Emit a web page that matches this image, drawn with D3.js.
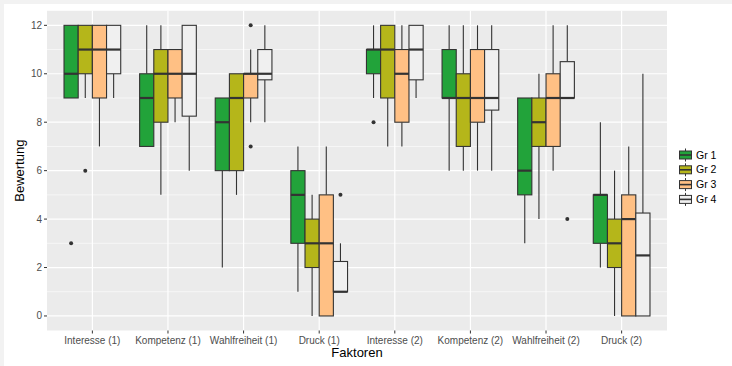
<!DOCTYPE html>
<meta charset="utf-8">
<html>
<head>
  <script src="https://d3js.org/d3.v7.min.js"></script>
  <style>
    body { margin: 0; background: #f2f2f2; }
    svg { display: block; font-family: "Liberation Sans", Arial, sans-serif; }
  </style>
</head>
<body>
  <svg></svg>
  <script type="text/javascript">
    // categories and groups
    var factors = ['Interesse (1)', 'Kompetenz (1)', 'Wahlfreiheit (1)', 'Druck (1)',
                   'Interesse (2)', 'Kompetenz (2)', 'Wahlfreiheit (2)', 'Druck (2)']
    var groups = ['Gr 1', 'Gr 2', 'Gr 3', 'Gr 4']
    var groupColors = ['#22a33a', '#b5b61a', '#ffc084', '#f0f0f0']

    // box stats, one row per factor, one value per group
    var lower = [
      [9, 9, 7, 9], [7, 5, 8, 6], [2, 5, 8, 8], [1, 0, 0, 1],
      [9, 7, 7, 9], [6, 6, 6, 6], [3, 4, 6, 9], [2, 0, 0, 0]
    ]
    var q1 = [
      [9, 10, 9, 10], [7, 8, 9, 8.25], [6, 6, 9, 9.75], [3, 2, 0, 1],
      [10, 9, 8, 9.75], [9, 7, 8, 8.5], [5, 7, 7, 9], [3, 2, 0, 0]
    ]
    var median = [
      [10, 11, 11, 11], [9, 10, 10, 10], [8, 9, 10, 10], [5, 3, 3, 1],
      [11, 11, 10, 11], [9, 9, 9, 9], [6, 8, 9, 9], [5, 3, 4, 2.5]
    ]
    var q3 = [
      [12, 12, 12, 12], [10, 11, 11, 12], [9, 10, 10, 11], [6, 4, 5, 2.25],
      [11, 12, 11, 12], [11, 10, 11, 11], [9, 9, 10, 10.5], [5, 4, 5, 4.25]
    ]
    var upper = [
      [12, 12, 12, 12], [12, 12, 11, 12], [9, 10, 11, 12], [7, 5, 7, 3],
      [12, 12, 12, 12], [12, 12, 12, 12], [9, 10, 12, 12], [8, 6, 7, 10]
    ]
    // outliers: [factor index, group index, value]
    var outliers = [
      [0, 0, 3], [0, 1, 6], [2, 2, 12], [2, 2, 7], [3, 3, 5], [4, 0, 8], [6, 3, 4]
    ]
    var yTicks = [0, 2, 4, 6, 8, 10, 12]

    var width = 732
    var height = 366
    var panel = { left: 47, right: 667, top: 10.8, bottom: 330.5 }

    const svg = d3.select('svg')
      .attr('width', width)
      .attr('height', height)

    // white plot area inside a thin grey frame
    svg.append('rect')
      .attr('x', 4).attr('y', 4)
      .attr('width', width - 4).attr('height', height - 4)
      .attr('fill', 'white')

    var x = d3.scalePoint()
      .domain(factors)
      .range([panel.left, panel.right])
      .padding(0.6)
    var step = x.step()
    var xg = d3.scaleBand()
      .domain(groups)
      .range([-0.375 * step, 0.375 * step])
    var bw = xg.bandwidth()

    var y = d3.scaleLinear()
      .domain([-0.6, 12.6])
      .range([panel.bottom, panel.top])

    // panel + grid
    svg.append('rect')
      .attr('x', panel.left).attr('y', panel.top)
      .attr('width', panel.right - panel.left)
      .attr('height', panel.bottom - panel.top)
      .attr('fill', '#ebebeb')

    var grid = svg.append('g')
    var minor = d3.range(1, 12, 2)
    grid.selectAll('line.minor')
      .data(minor).enter().append('line')
      .attr('x1', panel.left).attr('x2', panel.right)
      .attr('y1', d => y(d)).attr('y2', d => y(d))
      .attr('stroke', 'white').attr('stroke-width', 0.6)
    grid.selectAll('line.majy')
      .data(yTicks).enter().append('line')
      .attr('x1', panel.left).attr('x2', panel.right)
      .attr('y1', d => y(d)).attr('y2', d => y(d))
      .attr('stroke', 'white').attr('stroke-width', 1.2)
    grid.selectAll('line.majx')
      .data(factors).enter().append('line')
      .attr('x1', d => x(d)).attr('x2', d => x(d))
      .attr('y1', panel.top).attr('y2', panel.bottom)
      .attr('stroke', 'white').attr('stroke-width', 1.2)

    // flatten the stats into box records
    var boxes = []
    factors.forEach(function(f, i) {
      groups.forEach(function(g, j) {
        boxes.push({
          factor: f, group: g, gi: j,
          lower: lower[i][j], q1: q1[i][j], median: median[i][j],
          q3: q3[i][j], upper: upper[i][j]
        })
      })
    })

    var outline = '#333333'
    var boxG = svg.append('g')
    var bx = boxG.selectAll('g')
      .data(boxes).enter().append('g')
      .attr('transform', d => 'translate(' + (x(d.factor) + xg(d.group)) + ',0)')

    // whiskers
    bx.append('line')
      .attr('x1', bw / 2).attr('x2', bw / 2)
      .attr('y1', d => y(d.upper)).attr('y2', d => y(d.q3))
      .attr('stroke', outline).attr('stroke-width', 1.1)
    bx.append('line')
      .attr('x1', bw / 2).attr('x2', bw / 2)
      .attr('y1', d => y(d.q1)).attr('y2', d => y(d.lower))
      .attr('stroke', outline).attr('stroke-width', 1.1)
    // box
    bx.append('rect')
      .attr('x', 0).attr('width', bw)
      .attr('y', d => y(d.q3))
      .attr('height', d => y(d.q1) - y(d.q3))
      .attr('fill', d => groupColors[d.gi])
      .attr('stroke', outline).attr('stroke-width', 1.1)
    // median
    bx.append('line')
      .attr('x1', 0).attr('x2', bw)
      .attr('y1', d => y(d.median)).attr('y2', d => y(d.median))
      .attr('stroke', outline).attr('stroke-width', 2.2)

    // outlier points
    svg.append('g').selectAll('circle')
      .data(outliers).enter().append('circle')
      .attr('cx', d => x(factors[d[0]]) + xg(groups[d[1]]) + bw / 2)
      .attr('cy', d => y(d[2]))
      .attr('r', 2)
      .attr('fill', outline)

    // axes
    var tickCol = '#4d4d4d'
    var yAxis = svg.append('g')
    yAxis.selectAll('line')
      .data(yTicks).enter().append('line')
      .attr('x1', panel.left - 3).attr('x2', panel.left)
      .attr('y1', d => y(d)).attr('y2', d => y(d))
      .attr('stroke', '#333').attr('stroke-width', 1)
    yAxis.selectAll('text')
      .data(yTicks).enter().append('text')
      .attr('x', panel.left - 5).attr('y', d => y(d) + 3.5)
      .attr('text-anchor', 'end')
      .attr('font-size', 10)
      .attr('fill', tickCol)
      .text(d => d)

    var xAxis = svg.append('g')
    xAxis.selectAll('line')
      .data(factors).enter().append('line')
      .attr('x1', d => x(d)).attr('x2', d => x(d))
      .attr('y1', panel.bottom).attr('y2', panel.bottom + 3)
      .attr('stroke', '#333').attr('stroke-width', 1)
    xAxis.selectAll('text')
      .data(factors).enter().append('text')
      .attr('x', d => x(d)).attr('y', panel.bottom + 13)
      .attr('text-anchor', 'middle')
      .attr('font-size', 10)
      .attr('fill', tickCol)
      .text(d => d)

    // axis titles
    svg.append('text')
      .attr('x', (panel.left + panel.right) / 2).attr('y', 357)
      .attr('text-anchor', 'middle')
      .attr('font-size', 13)
      .attr('fill', 'black')
      .text('Faktoren')
    svg.append('text')
      .attr('transform', 'translate(24,' + ((panel.top + panel.bottom) / 2) + ') rotate(-90)')
      .attr('text-anchor', 'middle')
      .attr('font-size', 13)
      .attr('fill', 'black')
      .text('Bewertung')

    // legend
    var legend = svg.append('g').attr('transform', 'translate(679,148)')
    var key = legend.selectAll('g')
      .data(groups).enter().append('g')
      .attr('transform', (d, i) => 'translate(0,' + (i * 14.8) + ')')
    key.append('line')
      .attr('x1', 6.5).attr('x2', 6.5)
      .attr('y1', 0.5).attr('y2', 13.5)
      .attr('stroke', outline).attr('stroke-width', 1)
    key.append('rect')
      .attr('x', 0.5).attr('y', 3)
      .attr('width', 12).attr('height', 8)
      .attr('fill', (d, i) => groupColors[i])
      .attr('stroke', outline).attr('stroke-width', 1)
    key.append('line')
      .attr('x1', 0.5).attr('x2', 12.5)
      .attr('y1', 7).attr('y2', 7)
      .attr('stroke', outline).attr('stroke-width', 1.6)
    key.append('text')
      .attr('x', 17).attr('y', 10.5)
      .attr('font-size', 10.5)
      .attr('fill', 'black')
      .text(d => d)
  </script>
</body>
</html>
